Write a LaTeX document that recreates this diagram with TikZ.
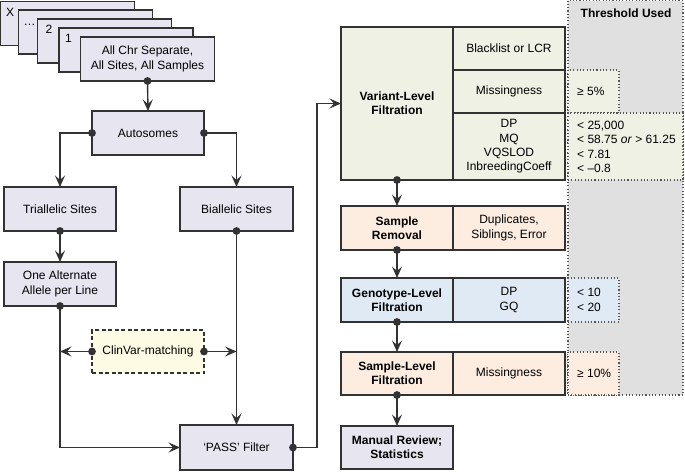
\documentclass[tikz,border=0pt]{standalone}
\usepackage{fontspec}
\setmainfont{Liberation Sans}
\usetikzlibrary{arrows.meta}
\definecolor{edge}{RGB}{50,50,50}
\definecolor{lav}{RGB}{231,229,240}
\definecolor{grn}{RGB}{238,241,228}
\definecolor{pch}{RGB}{252,237,224}
\definecolor{blu}{RGB}{224,234,244}
\definecolor{ylw}{RGB}{254,251,228}
\definecolor{gcol}{RGB}{224,224,224}
\definecolor{dotc}{RGB}{85,85,85}
\begin{document}
\begin{tikzpicture}[x=1pt,y=-1pt,
  box/.style={draw=edge, line width=1.4pt, inner sep=0pt, outer sep=0pt, align=center,
    font=\fontsize{12}{14.3}\selectfont},
  sheet/.style={box, fill=lav, minimum width=134, minimum height=44},
  flow/.style={box, fill=lav, minimum width=112, minimum height=44},
  cell/.style={box, minimum width=112},
  bcell/.style={cell, font=\fontsize{12}{14.3}\selectfont\bfseries},
  thr/.style={draw=dotc, line width=1.1pt, dash pattern=on 1.1pt off 2.2pt, inner sep=0pt, outer sep=0pt},
  thrtext/.style={anchor=west, inner sep=0pt, align=left, font=\fontsize{12}{14.3}\selectfont},
  lbl/.style={anchor=base west, inner sep=0pt, font=\fontsize{12}{14.3}\selectfont},
  conn/.style={draw=edge, line width=1.4pt, -{Stealth[length=11.5pt,width=10pt,inset=4.5pt]}},
  dotnode/.style={circle, fill=edge, inner sep=0pt, minimum size=7.8pt}
]
\useasboundingbox (0,0) rectangle (685,471);

% threshold column
\path[fill=gcol, draw=dotc, line width=1.1pt, dash pattern=on 1.1pt off 2.2pt] (568,0.5) rectangle (683,395);
\node[font=\fontsize{12}{14.3}\selectfont\bfseries] (thh) at (626,13) {Threshold Used};

% stacked sheets
\node[sheet] (sx) at (67.5,23.5) {};
\node[lbl] (lx) at (6,16.5) {X};
\node[sheet] (sd) at (85.3,32) {};
\node[lbl] (ld) at (23.5,25.5) {…};
\node[sheet] (s2) at (104.7,41) {};
\node[lbl] (l2) at (45.5,33.5) {2};
\node[sheet] (s1) at (126,50) {};
\node[lbl] (l1) at (65,42.5) {1};
\node[sheet] (main) at (147.5,59) {All Chr Separate,\\All Sites, All Samples};

% left flow
\node[flow] (auto) at (148,133) {Autosomes};
\node[flow] (tri) at (60,209) {Triallelic Sites};
\node[flow, minimum width=113] (bi) at (236.5,209) {Biallelic Sites};
\node[flow] (alt) at (60,284) {One Alternate\\Allele per Line};
\node[flow, fill=ylw, dash pattern=on 4pt off 2.5pt, minimum height=43] (clin) at (148,351.5) {ClinVar-matching};
\node[flow, minimum width=113, minimum height=45] (pass) at (236.5,447.5) {‘PASS’ Filter};

% variant-level block
\node[bcell, fill=grn, minimum height=153] (var) at (397,103.5) {Variant-Level\\Filtration};
\node[cell, fill=grn, minimum height=43] (bl) at (509,48.5) {Blacklist or LCR};
\node[cell, fill=grn, minimum height=43] (miss) at (509,91.5) {Missingness};
\node[cell, fill=grn, minimum height=67] (dp) at (509,146.5) {DP\\MQ\\VQSLOD\\InbreedingCoeff};
\node[thr, fill=grn, minimum width=51, minimum height=43] (t1) at (593.5,91.5) {};
\node[thrtext] (t1x) at (577,91.5) {≥ 5\%};
\node[thr, fill=grn, minimum width=115, minimum height=67] (t2) at (625.5,146.5) {};
\node[thrtext] (t2x) at (577,147) {< 25,000\\< 58.75 \textit{or} > 61.25\\< 7.81\\< –0.8};

% sample removal
\node[bcell, fill=pch, minimum height=44] (sr) at (397,228) {Sample\\Removal};
\node[cell, fill=pch, minimum height=44] (srr) at (509,228) {Duplicates,\\Siblings, Error};

% genotype-level
\node[bcell, fill=blu, minimum height=44] (gl) at (397,300) {Genotype-Level\\Filtration};
\node[cell, fill=blu, minimum height=44] (glr) at (509,300) {DP\\GQ};
\node[thr, fill=blu, minimum width=51, minimum height=44] (t3) at (593.5,300) {};
\node[thrtext] (t3x) at (577,300) {< 10\\< 20};

% sample-level
\node[bcell, fill=pch, minimum height=43] (sl) at (397,373.5) {Sample-Level\\Filtration};
\node[cell, fill=pch, minimum height=43] (slr) at (509,373.5) {Missingness};
\node[thr, fill=pch, minimum width=51, minimum height=43] (t4) at (593.5,373.5) {};
\node[thrtext] (t4x) at (577,373.5) {≥ 10\%};

% manual review
\node[bcell, fill=lav, minimum height=43] (man) at (397,447.5) {Manual Review;\\Statistics};

% connectors
\draw[conn] (main.south) -- (auto.north);
\draw[conn] (auto.west) -| (tri.north);
\draw[conn] (auto.east) -| (bi.north);
\draw[conn] (tri.south) -- (alt.north);
\draw[conn] (bi.south) -- (pass.north);
\draw[conn] (alt.south) |- (pass.west);
\draw[conn] (clin.west) -- (clin.west -| alt.south);
\draw[conn] (clin.east) -- (clin.east -| bi.south);
\draw[conn] (pass.east) -- ++(24,0) |- (var.west);
\draw[conn] (var.south) -- (sr.north);
\draw[conn] (sr.south) -- (gl.north);
\draw[conn] (gl.south) -- (sl.north);
\draw[conn] (sl.south) -- (man.north);

% start dots
\foreach \p/\n in {main.south/d1, auto.west/d2, auto.east/d3, tri.south/d4, bi.south/d5, alt.south/d6,
  clin.west/d7, clin.east/d8, pass.east/d9, var.south/d10, sr.south/d11, gl.south/d12, sl.south/d13}
  \node[dotnode] (\n) at (\p) {};
\end{tikzpicture}
\end{document}
